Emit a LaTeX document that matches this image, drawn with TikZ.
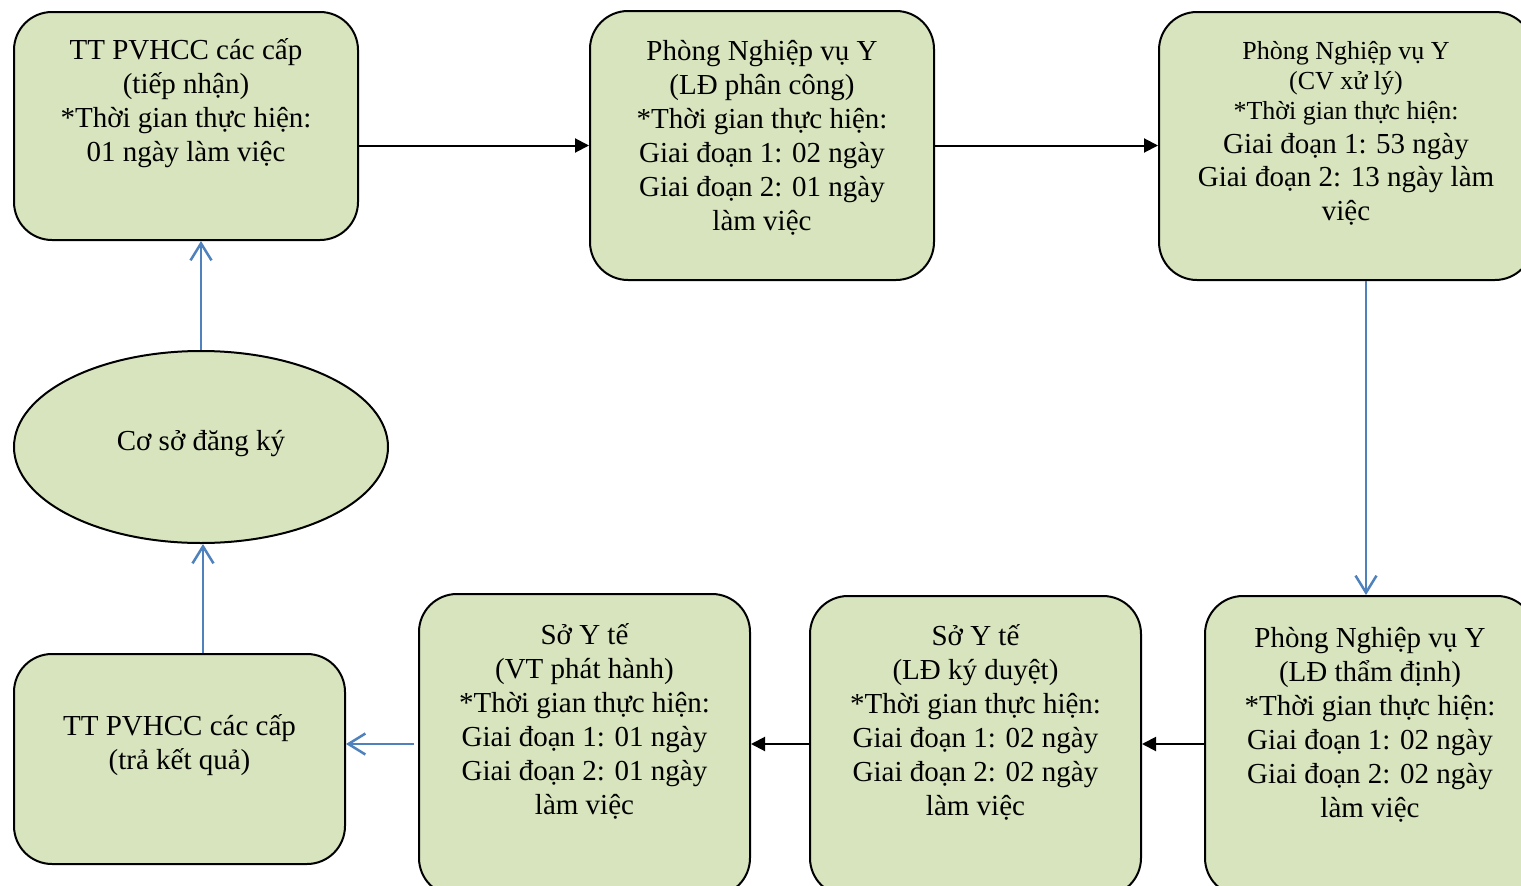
\documentclass[tikz,border=0pt]{standalone}
\usepackage{fontspec}
\setmainfont{Liberation Serif}
\usetikzlibrary{arrows.meta,shapes.geometric}
\definecolor{boxfill}{HTML}{D7E4BD}
\definecolor{blueline}{HTML}{4F81BD}
% #1 width, #2 height, #3 top pad, #4 first line, #5 remaining lines
\newcommand\boxtxt[5]{\parbox[c][#2][t]{#1}{\lineskiplimit=-50pt\centering\vspace*{#3}\smash{#4}\strut#5\par}}
\tikzset{
  box/.style={draw=black, line width=2pt, fill=boxfill, rounded corners=38pt, inner sep=0pt, rectangle,
    font=\fontsize{29}{34}\selectfont},
  ellbox/.style={draw=black, line width=2pt, fill=boxfill, ellipse, inner sep=0pt,
    font=\fontsize{29}{34}\selectfont},
  conn/.style={draw=black, line width=2pt, -{Triangle[length=14pt,width=14pt]}},
  bconn/.style={draw=blueline, line width=2.5pt, -{Straight Barb[length=17pt,width=21pt]}},
}
\begin{document}
\begin{tikzpicture}[x=1pt,y=-1pt]
\fill[white] (0,0) rectangle (1521,886);
\useasboundingbox (0,0) rectangle (1521,886);

\node[box] (b1) at (186,126) {\boxtxt{344pt}{228pt}{24pt}{TT PVHCC các cấp}{\\(tiếp nhận)\\{}*Thời gian thực hiện:\\01 ngày làm việc}};

\node[box] (b2) at (762,145.5) {\boxtxt{344pt}{269pt}{25.3pt}{Phòng Nghiệp vụ Y}{\\(LĐ phân công)\\{}*Thời gian thực hiện:\\Giai đoạn 1: 02 ngày\\Giai đoạn 2: 01 ngày\\làm việc}};

\node[box] (b3) at (1346,146) {\parbox[c][268pt][t]{374pt}{\lineskiplimit=-50pt\centering\vspace*{26.7pt}\fontsize{26}{30}\selectfont\smash{Phòng Nghiệp vụ Y}\strut\\(CV xử lý)\\{}*Thời gian thực hiện:\par\fontsize{29}{33.5}\selectfont Giai đoạn 1: 53 ngày\\Giai đoạn 2: 13 ngày làm\\việc\par}};

\node[box] (b4) at (1370,746) {\boxtxt{330pt}{300pt}{28.1pt}{Phòng Nghiệp vụ Y}{\\(LĐ thẩm định)\\{}*Thời gian thực hiện:\\Giai đoạn 1: 02 ngày\\Giai đoạn 2: 02 ngày\\làm việc}};

\node[box] (b5) at (975.5,746) {\boxtxt{331pt}{300pt}{26.1pt}{Sở Y tế}{\\(LĐ ký duyệt)\\{}*Thời gian thực hiện:\\Giai đoạn 1: 02 ngày\\Giai đoạn 2: 02 ngày\\làm việc}};

\node[box] (b6) at (584.5,745) {\boxtxt{331pt}{302pt}{27.1pt}{Sở Y tế}{\\(VT phát hành)\\{}*Thời gian thực hiện:\\Giai đoạn 1: 01 ngày\\Giai đoạn 2: 01 ngày\\làm việc}};

\node[box] (b7) at (179.5,759) {\boxtxt{331pt}{210pt}{58.1pt}{TT PVHCC các cấp}{\\(trả kết quả)}};

\node[ellbox, minimum width=374pt, minimum height=192pt, text height=23pt, text depth=17pt] (ell) at (201,447) {Cơ sở đăng ký};

\coordinate (x34) at (1366,0);
\coordinate (x203) at (203,0);
\coordinate (y744) at (0,744);

\draw[conn] (b1.east |- b2.west) -- (b2.west);
\draw[conn] (b2.east) -- (b3.west |- b2.east);
\draw[bconn] (b3.south -| x34) -- (b4.north -| x34);
\draw[conn] (b4.west |- y744) -- (b5.east |- y744);
\draw[conn] (b5.west |- y744) -- (b6.east |- y744);
\draw[bconn] ([xshift=-4pt]b6.west |- y744) -- (b7.east |- y744);
\draw[bconn] (b7.north -| x203) -- (ell.south -| x203);
\draw[bconn] (ell.north) -- (b1.south -| ell.north);
\end{tikzpicture}
\end{document}
